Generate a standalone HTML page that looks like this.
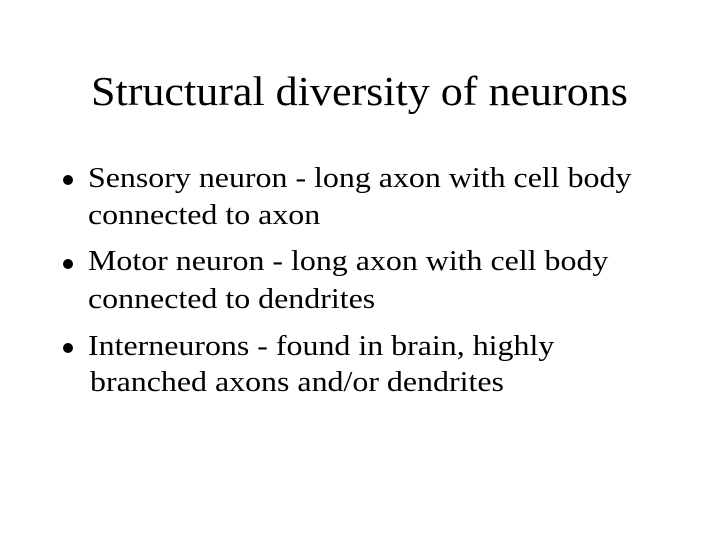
<!DOCTYPE html>
<html><head><style>
body{margin:0;width:719px;height:539px;background:#fff;font-family:"Liberation Serif",serif;color:#000;position:relative;overflow:hidden}
.t{position:absolute;left:0;width:719px;top:71px;text-align:center;font-size:41px;line-height:41px;white-space:nowrap;transform:scaleX(1.074);transform-origin:360px 0}
.l{position:absolute;font-size:28px;line-height:28px;white-space:nowrap;transform:scaleX(1.14);transform-origin:0 0}
.b{position:absolute;width:10px;height:10px;border-radius:50%;background:#000}
</style></head><body>
<div class="t">Structural diversity of neurons</div>
<div class="b" style="left:63px;top:175px"></div>
<div class="l" style="left:88px;top:165px">Sensory neuron - long axon with cell body</div>
<div class="l" style="left:88px;top:202px">connected to axon</div>
<div class="b" style="left:63px;top:259px"></div>
<div class="l" style="left:88px;top:248px">Motor neuron - long axon with cell body</div>
<div class="l" style="left:88px;top:286px">connected to dendrites</div>
<div class="b" style="left:63px;top:343px"></div>
<div class="l" style="left:88px;top:333px">Interneurons - found in brain, highly</div>
<div class="l" style="left:90px;top:369px">branched axons and/or dendrites</div>
</body></html>
